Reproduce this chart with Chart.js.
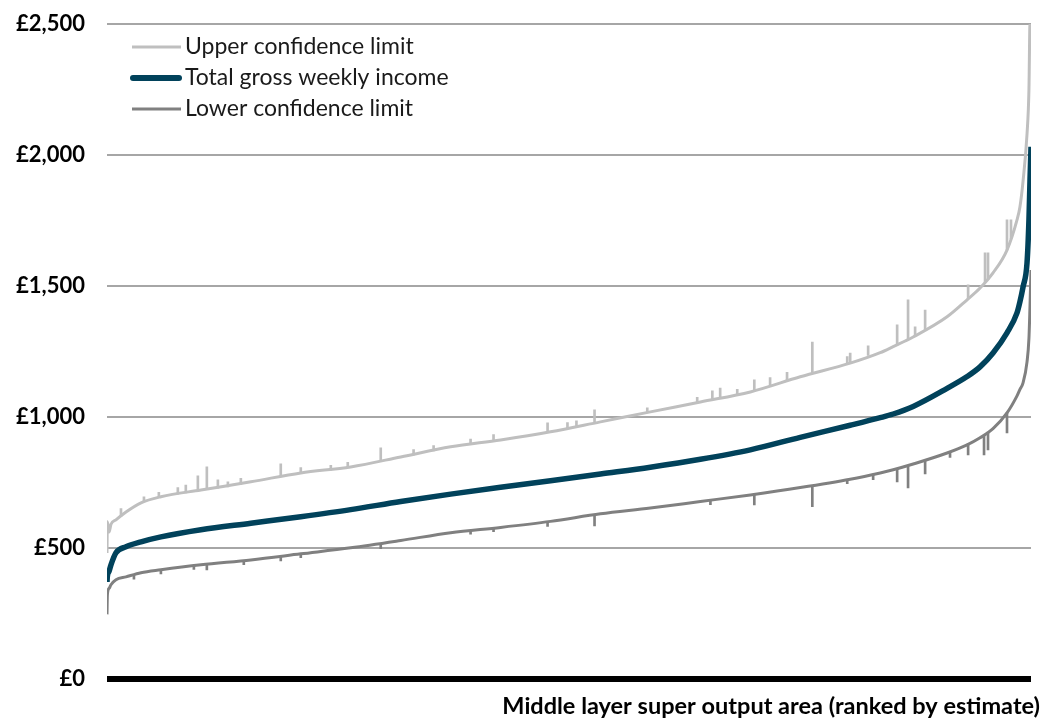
<!DOCTYPE html>
<html>
<head>
<meta charset="utf-8">
<script src="https://cdn.jsdelivr.net/npm/chart.js@4.4.1/dist/chart.umd.min.js"></script>
<style>
  html, body { margin:0; padding:0; background:#fff; }
</style>
</head>
<body>
<canvas id="myChart" width="1047" height="721"></canvas>
<script>
// MSOA rank (1 = lowest estimate) for the sampled points
const ranks = [1, 4, 17, 32, 71, 149, 266, 421, 733, 1122, 1511, 1900, 2290, 2679, 3068, 3457, 3846,
  4235, 4625, 5014, 5403, 5792, 6026, 6127, 6283, 6547, 6703, 6804, 6905, 7014, 7092, 7115, 7139, 7170,
  7185, 7193, 7201];

const upper_values = [480, 600, 560, 590, 607, 637, 672, 695, 721, 752, 786, 809, 847, 886, 912, 943, 981,
  1019, 1057, 1095, 1153, 1205, 1245, 1268, 1305, 1382, 1447, 1492, 1550, 1637, 1752, 1802, 1900, 2080,
  2250, 2500, 2500];

const total_values = [370, 392, 410, 435, 481, 504, 523, 542, 569, 594, 619, 646, 677, 705, 731, 756, 782,
  808, 838, 874, 922, 968, 997, 1011, 1040, 1109, 1154, 1191, 1244, 1321, 1397, 1440, 1496, 1588,
  1752, 1900, 2031];

const lower_values = [246, 320, 345, 359, 378, 389, 405, 416, 435, 454, 477, 500, 528, 558, 578, 601, 630,
  652, 677, 702, 730, 762, 786, 798, 820, 862, 893, 920, 955, 1015, 1080, 1105, 1130, 1210,
  1300, 1420, 1561];

// areas with unusually wide confidence intervals (rank, from, to)
const upper_spike_ranks = [110, 289, 405, 553, 615, 709, 779, 865, 943, 1044, 1355, 1511, 1745, 1877, 2134, 2390, 2546,
  2834, 3013, 3434, 3589, 3659, 3800, 4211, 4600, 4718, 4779, 4912, 5045, 5168, 5300, 5497, 5769, 5792, 5932,
  6158, 6243, 6298, 6376, 6711, 6843, 6866, 7014, 7045];
const upper_spike_from  = [620, 675, 692, 705, 710, 719, 724, 728, 733, 742, 772, 786, 797, 806, 832, 855, 870,
  896, 907, 940, 955, 960, 977, 1017, 1055, 1065, 1070, 1082, 1098, 1117, 1136, 1165, 1202, 1205, 1235,
  1275, 1295, 1308, 1330, 1450, 1515, 1525, 1637, 1680];
const upper_spike_to    = [650, 695, 712, 730, 740, 775, 809, 760, 752, 765, 821, 806, 815, 826, 882, 875, 890,
  915, 932, 977, 978, 985, 1027, 1035, 1075, 1099, 1110, 1105, 1141, 1150, 1170, 1286, 1230, 1244, 1271,
  1351, 1447, 1344, 1408, 1504, 1626, 1626, 1752, 1752];

const lower_spike_ranks = [211, 421, 678, 779, 1067, 1355, 1511, 2134, 2834, 3013, 3434, 3800, 4703, 5045, 5497,
  5769, 5971, 6158, 6243, 6376, 6570, 6711, 6835, 6866, 7014];
const lower_spike_from  = [380, 400, 418, 416, 436, 450, 462, 497, 552, 562, 582, 584, 665, 664, 657,
  745, 760, 752, 729, 782, 845, 855, 855, 874, 939];
const lower_spike_to    = [398, 416, 432, 437, 451, 466, 477, 517, 566, 575, 598, 628, 682, 702, 738,
  758, 780, 800, 810, 830, 866, 898, 930, 942, 1015];

const y_ticks = [0, 500, 1000, 1500, 2000, 2500];

const colours = {
  upper: '#bfbfbf',
  total: '#01425b',
  lower: '#808080'
};

function points(vals){
  return ranks.map((r, i) => ({x: r, y: vals[i]}));
}
function spikes(rs, from, to){
  return rs.map((r, i) => ({x: r, y: [from[i], to[i]]}));
}

// legend drawn inside the plot, top left
const insideLegend = {
  id: 'insideLegend',
  afterDraw(chart) {
    const ctx = chart.ctx;
    ctx.save();
    ctx.font = '23px Lato';
    ctx.textBaseline = 'middle';
    ctx.fillStyle = '#1a1a1a';
    for (let i = 0; i < 3; i++) {
      const ds = chart.data.datasets[i];
      const y = 47 + i * 31;
      ctx.beginPath();
      ctx.strokeStyle = ds.borderColor;
      ctx.lineWidth = i == 1 ? 6 : 3;
      ctx.lineCap = i == 1 ? 'round' : 'butt';
      ctx.moveTo(i == 1 ? 133 : 132, y);
      ctx.lineTo(i == 1 ? 179 : 181, y);
      ctx.stroke();
      ctx.fillText(ds.label, 185, y);
    }
    ctx.restore();
  }
};

const lineBase = {
  type: 'line',
  pointRadius: 0,
  fill: false,
  cubicInterpolationMode: 'monotone'
};

const data = {
  datasets: [
    Object.assign({}, lineBase, {
      label: 'Upper confidence limit',
      data: points(upper_values),
      borderColor: colours.upper,
      borderWidth: 3,
      order: 5
    }),
    Object.assign({}, lineBase, {
      label: 'Total gross weekly income',
      data: points(total_values),
      borderColor: colours.total,
      borderWidth: 5.5,
      order: 1
    }),
    Object.assign({}, lineBase, {
      label: 'Lower confidence limit',
      data: points(lower_values),
      borderColor: colours.lower,
      borderWidth: 3,
      order: 3
    }),
    {
      type: 'bar',
      label: 'upper spikes',
      data: spikes(upper_spike_ranks, upper_spike_from, upper_spike_to),
      backgroundColor: colours.upper,
      borderWidth: 0,
      barThickness: 2,
      grouped: false,
      order: 6
    },
    {
      type: 'bar',
      label: 'lower spikes',
      data: spikes(lower_spike_ranks, lower_spike_from, lower_spike_to),
      backgroundColor: colours.lower,
      borderWidth: 0,
      barThickness: 2,
      grouped: false,
      order: 4
    }
  ]
};

const options = {
  responsive: false,
  animation: false,
  layout: { padding: { top: 24, right: 7, bottom: 0, left: 0 } },
  plugins: {
    legend: { display: false },
    tooltip: { enabled: false },
    title: {
      display: true,
      position: 'bottom',
      align: 'end',
      text: 'Middle layer super output area (ranked by estimate)',
      color: '#000',
      font: { family: 'Lato', size: 23.5, weight: 'bold' },
      padding: { top: 14, bottom: 0 }
    }
  },
  scales: {
    x: {
      type: 'linear',
      display: false,
      min: 1,
      max: 7201,
      offset: false
    },
    y: {
      min: 0,
      max: 2500,
      afterBuildTicks(scale) { scale.ticks = y_ticks.map(v => ({value: v})); },
      afterFit(scale) {
        scale.width = 107;
        // labels may overhang into the layout padding
        scale.paddingTop = 0;
        scale.paddingBottom = 0;
      },
      border: { display: false },
      grid: {
        drawTicks: false,
        color: c => c.tick && c.tick.value === 0 ? '#000' : '#a6a6a6',
        lineWidth: c => c.tick && c.tick.value === 0 ? 6 : 2
      },
      ticks: {
        padding: 22,
        color: '#000',
        font: { family: 'Lato', size: 22, weight: 'bold' },
        callback: v => '£' + v.toLocaleString('en-GB')
      }
    },
    y2: {
      position: 'right',
      display: true,
      grid: { display: false },
      border: { display: false },
      ticks: { display: false },
      afterFit(scale) { scale.width = 9; }
    }
  }
};

const ctx = document.getElementById('myChart').getContext('2d');
const myChart = new Chart(ctx, {
  type: 'line',
  data: data,
  options: options,
  plugins: [insideLegend]
});
</script>
</body>
</html>
